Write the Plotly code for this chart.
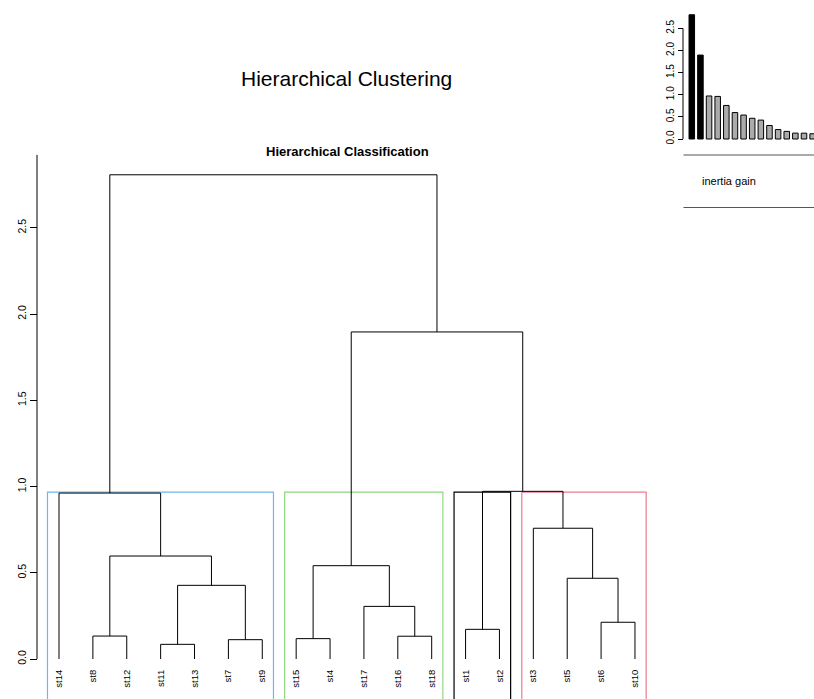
import plotly.graph_objects as go

# ---------------- data ----------------
leaf_order = ["st14", "st8", "st12", "st11", "st13", "st7", "st9",
              "st15", "st4", "st17", "st16", "st18",
              "st1", "st2", "st3", "st5", "st6", "st10"]

# merges: children are leaf names or indices of earlier merges
merge_left = ["st11", "st7", "st15", "st8", "st16", "st1", "st6", "st17", 0,
              "st5", 2, 3, "st3", "st14", 5, 10, 13]
merge_right = ["st13", "st9", "st4", "st12", "st18", "st2", "st10", 4, 1,
               6, 7, 8, 9, 11, 12, 14, 15]
merge_height = [0.085, 0.112, 0.118, 0.133, 0.132, 0.172, 0.213, 0.305, 0.427,
                0.468, 0.541, 0.597, 0.758, 0.962, 0.972, 1.896, 2.807]

n_clusters = 4
cluster_colors = ["#6DB6EE", "#8ED67F", "#000000", "#EC7A8E"]
y_ticks = [0.0, 0.5, 1.0, 1.5, 2.0, 2.5]
y_tick_labels = ["0.0", "0.5", "1.0", "1.5", "2.0", "2.5"]
n_black_bars = 2

title_main = "Hierarchical Clustering"
title_sub = "Hierarchical Classification"
inset_label = "inertia gain"

# ---------------- geometry helpers ----------------
W, H = 814, 699
FONT = "Liberation Sans, Arial, Helvetica, sans-serif"

leaf_x = {name: i + 1 for i, name in enumerate(leaf_order)}


def node_pos(node):
    if isinstance(node, str):
        return leaf_x[node], 0.0
    return node_x[node], merge_height[node]


node_x = []
xs, ys = [], []
for i, (a, b, h) in enumerate(zip(merge_left, merge_right, merge_height)):
    xa, ha = node_pos(a)
    xb, hb = node_pos(b)
    node_x.append((xa + xb) / 2)
    xs += [xa, xa, xb, xb, None]
    ys += [ha, h, h, hb, None]


def leaves_of(node):
    if isinstance(node, str):
        return [node]
    return leaves_of(merge_left[node]) + leaves_of(merge_right[node])


hs_sorted = sorted(merge_height, reverse=True)
cut = (hs_sorted[n_clusters - 2] + hs_sorted[n_clusters - 1]) / 2


def clusters_of(node):
    if isinstance(node, str) or merge_height[node] < cut:
        return [leaves_of(node)]
    return clusters_of(merge_left[node]) + clusters_of(merge_right[node])


root = len(merge_height) - 1
clusters = clusters_of(root)

fig = go.Figure()

fig.add_trace(go.Scatter(x=xs, y=ys, mode="lines",
                         line=dict(color="black", width=1),
                         hoverinfo="skip", showlegend=False))

bar_colors = ["black" if i < n_black_bars else "#ABABAB" for i in range(len(hs_sorted))]
fig.add_trace(go.Bar(x=list(range(1, len(hs_sorted) + 1)), y=hs_sorted,
                     marker=dict(color=bar_colors, line=dict(color="black", width=1)),
                     width=0.64, xaxis="x2", yaxis="y2", showlegend=False,
                     hoverinfo="skip"))

shapes = []
for leaves, col in zip(clusters, cluster_colors):
    x0 = leaf_x[leaves[0]] - 0.34
    x1 = leaf_x[leaves[-1]] + 0.33
    shapes.append(dict(type="rect", xref="x", yref="y", x0=x0, x1=x1,
                       y0=-0.6, y1=cut, line=dict(color=col, width=1.2),
                       fillcolor="rgba(0,0,0,0)", layer="below"))

# main y axis line
shapes.append(dict(type="line", xref="paper", yref="y", x0=37 / W, x1=37 / W,
                   y0=0, y1=2.922, line=dict(color="black", width=1)))
# inset y axis line
shapes.append(dict(type="line", xref="paper", yref="y2", x0=683 / W, x1=683 / W,
                   y0=y_ticks[0], y1=y_ticks[-1], line=dict(color="black", width=1)))
# inertia gain box lines
for yy in (155, 207.5):
    shapes.append(dict(type="line", xref="paper", yref="paper", x0=683.5 / W, x1=1,
                       y0=1 - yy / H, y1=1 - yy / H, line=dict(color="#555555", width=1)))

annotations = [
    dict(text=title_main, xref="paper", yref="paper", x=346.5 / W, y=1 - 78 / H,
         xanchor="center", yanchor="middle", showarrow=False,
         font=dict(family=FONT, size=21, color="black")),
    dict(text="<b>" + title_sub + "</b>", xref="paper", yref="paper", x=347 / W,
         y=1 - 151.5 / H, xanchor="center", yanchor="middle", showarrow=False,
         font=dict(family=FONT, size=13, color="black")),
    dict(text=inset_label, xref="paper", yref="paper", x=700 / W, y=1 - 181 / H,
         xanchor="left", yanchor="middle", showarrow=False,
         font=dict(family=FONT, size=11, color="black")),
]

fig.update_layout(
    width=W, height=H, margin=dict(l=0, r=0, t=0, b=0),
    paper_bgcolor="white", plot_bgcolor="white", showlegend=False,
    font=dict(family=FONT, color="black"),
    shapes=shapes, annotations=annotations,
    xaxis=dict(range=[-0.7414, 23.284], anchor="free", position=(H - 659) / H,
               tickmode="array", tickvals=list(range(1, len(leaf_order) + 1)),
               ticktext=leaf_order, tickangle=-90, ticks="outside", ticklen=6,
               tickcolor="rgba(0,0,0,0)", showline=False, showgrid=False,
               zeroline=False, tickfont=dict(family=FONT, size=9.5, color="black")),
    yaxis=dict(range=[-0.2319, 3.8203], anchor="free", position=37 / W,
               tickmode="array", tickvals=y_ticks, ticktext=y_tick_labels,
               tickangle=-90, ticks="outside", ticklen=7, tickwidth=1,
               tickcolor="black", showline=False, showgrid=False, zeroline=False,
               tickfont=dict(family=FONT, size=10.5, color="black")),
    xaxis2=dict(overlaying="x", range=[-79.16, 15.16], visible=False),
    yaxis2=dict(overlaying="y", range=[-12.65, 3.140], anchor="free",
                position=683 / W, tickmode="array", tickvals=y_ticks,
                ticktext=y_tick_labels, tickangle=-90, ticks="outside",
                ticklen=5, tickwidth=1, tickcolor="black", showline=False,
                showgrid=False, zeroline=False,
                tickfont=dict(family=FONT, size=10, color="black")),
)

fig.write_html("out.html", config={"displayModeBar": False},
               post_script="document.body.style.margin='0';")
